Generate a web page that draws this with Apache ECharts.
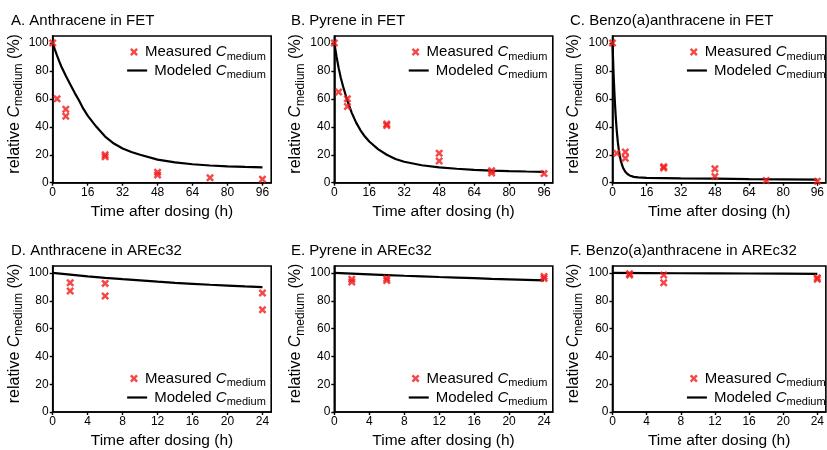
<!DOCTYPE html>
<html><head><meta charset="utf-8">
<script src="https://cdn.jsdelivr.net/npm/echarts@6/dist/echarts.min.js"></script>
<style>html,body{margin:0;padding:0;background:#fff}#c{width:827px;height:450px}</style>
</head><body><div id="c"></div>
<script>
// ---------- data ----------
const panelTitles = ['A. Anthracene in FET', 'B. Pyrene in FET', 'C. Benzo(a)anthracene in FET',
  'D. Anthracene in AREc32', 'E. Pyrene in AREc32', 'F. Benzo(a)anthracene in AREc32'];
const fetTicks = [0, 16, 32, 48, 64, 80, 96];
const arecTicks = [0, 4, 8, 12, 16, 20, 24];
const yTicks = [0, 20, 40, 60, 80, 100];

const measA = [[0,100],[2,60],[6,52.5],[6,47.5],[24,20],[24,18.5],[48,7.5],[48,5.5],[72,3.5],[96,2.5]];
const measB = [[0,100],[2,65],[6,60],[6,54.5],[24,42],[24,41],[48,21],[48,15.5],[72,8.5],[72,7],[96,6.5]];
const measC = [[0,100],[2,21],[6,22],[6,17.5],[24,11.5],[24,10.5],[48,10],[48,4.5],[72,1.5],[96,1]];
const measD = [[2,93],[2,87],[6,92.5],[6,83.5],[24,85.5],[24,73.5]];
const measE = [[2,95.5],[2,93.5],[6,96],[6,94.5],[24,97.5],[24,96]];
const measF = [[2,99.5],[2,98.5],[6,98.5],[6,93],[24,96.5],[24,95.5]];

const modelA = [[0,100],[1,95.3],[2,91],[3,86.8],[4,83],[6,76.5],[8,70.5],[10,64.5],[12,59],[14,53],[16,48],[20,40],
  [24,33],[28,28],[32,24.5],[36,22],[40,20],[48,16.5],[56,14.5],[64,13.2],[72,12.3],[80,11.7],[88,11.3],[96,11]];
const modelB = [[0,100],[1,90.5],[2,82],[3,75],[4,69],[6,58.5],[8,50],[10,43],[12,37.5],[14,33],[16,29.5],[20,24],
  [24,20],[28,17],[32,15],[40,12.5],[48,11],[56,10],[64,9.2],[72,8.7],[80,8.3],[88,8],[96,7.8]];
const modelC = [[0,100],[0.5,78],[1,61],[1.5,47.5],[2,37],[2.5,29],[3,23],[3.5,18.5],[4,15],[5,10.5],[6,7.8],[7,6.2],
  [8,5.2],[10,4.2],[12,3.8],[16,3.5],[24,3.3],[32,3.1],[48,2.9],[64,2.6],[80,2.4],[96,2.2]];
const modelD = [[0,100],[2,98.8],[4,97.6],[6,96.5],[8,95.5],[10,94.6],[12,93.7],[14,92.9],[16,92.2],[18,91.5],[20,90.9],[22,90.3],[24,89.8]];
const modelE = [[0,100],[2,99.5],[4,99],[6,98.5],[8,98],[10,97.6],[12,97.1],[14,96.7],[16,96.3],[18,95.8],[20,95.4],[22,95],[24,94.6]];
const modelF = [[0,100],[4,99.9],[8,99.8],[12,99.7],[16,99.6],[20,99.5],[24,99.4]];

const measured = [measA, measB, measC, measD, measE, measF];
const modeled = [modelA, modelB, modelC, modelD, modelE, modelF];

// ---------- layout / style ----------
const FONT = "'Liberation Sans', Arial, Helvetica, sans-serif";
const RED = '#f21a1a';
const XPATH = 'path://M2.2,0L5,2.8L7.8,0L10,2.2L7.2,5L10,7.8L7.8,10L5,7.2L2.2,10L0,7.8L2.8,5L0,2.2Z';
const gridLefts = [52.7, 334.3, 612.5];
const gridTops = [36, 266];
const GRID_W = 218.5, GRID_H = 146.7;
const titleLefts = [11, 291, 570];
const titleCenters = [22.5, 252.3];
const legendRows = [[54.5, 73], [381, 400]];

const rich = {
  n: {fontSize: 15, lineHeight: 20, fontFamily: FONT, color: '#000'},
  c: {fontSize: 15, lineHeight: 20, fontStyle: 'italic', fontFamily: FONT, color: '#000'},
  s: {fontSize: 11, verticalAlign: 'bottom', fontFamily: FONT, color: '#000'},
  p: {fontSize: 15, lineHeight: 20, fontFamily: FONT, color: '#000', padding: [0, 0, 0, 2]}
};
const richY = {
  n: {fontSize: 16, lineHeight: 21, fontFamily: FONT, color: '#000'},
  c: {fontSize: 16, lineHeight: 21, fontStyle: 'italic', fontFamily: FONT, color: '#000'},
  s: {fontSize: 12, verticalAlign: 'bottom', fontFamily: FONT, color: '#000'}
};

const option = {animation: false, backgroundColor: '#fff', title: [], grid: [], xAxis: [], yAxis: [], series: [], legend: []};

for (let i = 0; i < 6; i++) {
  const row = Math.floor(i / 3), col = i % 3;
  const fet = row === 0;
  const left = gridLefts[col], top = gridTops[row];
  option.title.push({text: panelTitles[i], left: titleLefts[col], top: titleCenters[row] - 9, padding: 0,
    textStyle: {fontSize: 15, fontWeight: 'normal', color: '#000', fontFamily: FONT}});
  option.grid.push({left: left, top: top, width: GRID_W, height: GRID_H, show: true,
    borderColor: '#000', borderWidth: 1.6, backgroundColor: 'transparent'});
  const xt = fet ? fetTicks : arecTicks;
  option.xAxis.push({gridIndex: i, type: 'value', min: 0, max: fet ? 100 : 25, interval: fet ? 16 : 4,
    axisLine: {show: true, onZero: false, lineStyle: {color: '#000', width: 1.6}},
    axisTick: {show: true, length: 3, customValues: xt, lineStyle: {color: '#000', width: 1.4}},
    axisLabel: {customValues: xt, fontSize: 12, color: '#000', margin: 4, fontFamily: FONT},
    splitLine: {show: false},
    name: 'Time after dosing (h)', nameLocation: 'middle', nameGap: 21,
    nameTextStyle: {fontSize: 15.5, color: '#000', fontFamily: FONT}});
  option.yAxis.push({gridIndex: i, type: 'value', min: 0, max: 105, interval: 20,
    axisLine: {show: true, onZero: false, lineStyle: {color: '#000', width: 1.6}},
    axisTick: {show: true, length: 3, customValues: yTicks, lineStyle: {color: '#000', width: 1.4}},
    axisLabel: {customValues: yTicks, fontSize: 12, color: '#000', margin: 4, fontFamily: FONT},
    splitLine: {show: false},
    name: '{n|relative }{c|C}{s|medium}{n| (%)}', nameLocation: 'middle', nameGap: 28, nameRotate: 90,
    nameTextStyle: {rich: richY, padding: [0, 0, 0, 11]}});
  option.series.push({type: 'line', name: 'Modeled', xAxisIndex: i, yAxisIndex: i, data: modeled[i],
    showSymbol: false, symbol: 'none', lineStyle: {color: '#000', width: 2.2}, itemStyle: {color: '#000'}, z: 2});
  option.series.push({type: 'scatter', name: 'Measured', xAxisIndex: i, yAxisIndex: i, data: measured[i],
    symbol: XPATH, symbolSize: 8, itemStyle: {color: RED}, z: 3});
  const rightEdge = left + GRID_W - 5.4;
  const fmt = name => '{p|' + name + ' }{c|C}{s|medium}';
  option.legend.push({data: [{name: 'Measured', icon: XPATH}], right: 827 - rightEdge, top: legendRows[row][0] - 10,
    itemWidth: 8, itemHeight: 8, padding: 0, selectedMode: false, formatter: fmt, textStyle: {rich: rich}});
  option.legend.push({data: [{name: 'Modeled', icon: 'rect', itemStyle: {color: '#000', borderWidth: 0}}],
    right: 827 - rightEdge, top: legendRows[row][1] - 10,
    itemWidth: 20, itemHeight: 2.2, padding: 0, selectedMode: false, formatter: fmt, textStyle: {rich: rich}});
}

const chart = echarts.init(document.getElementById('c'), null, {renderer: 'canvas'});
chart.setOption(option);
</script>
</body></html>
